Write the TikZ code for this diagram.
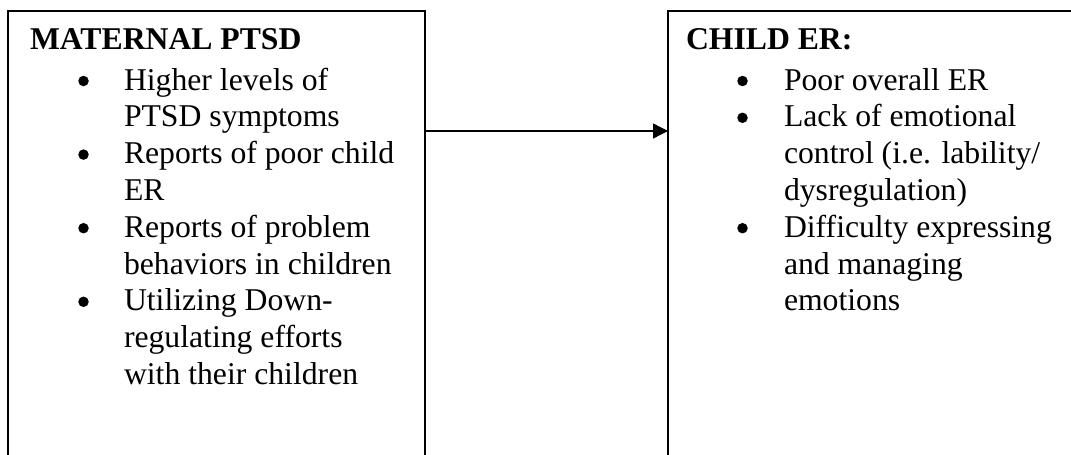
\documentclass[tikz,border=0pt]{standalone}
\usepackage{fontspec}
\setmainfont{Liberation Serif}
\usetikzlibrary{arrows.meta}

\begin{document}
\begin{tikzpicture}[x=1pt, y=-1pt,
    every node/.style={inner sep=0pt, outer sep=0pt},
    panel/.style={draw, line width=1.5pt, anchor=north west, minimum width=417, minimum height=489},
    line/.style={anchor=base west, font=\fontsize{31.7}{36.8}\selectfont},
    head/.style={line, font=\fontsize{31.7}{36.8}\selectfont\bfseries},
    dot/.style={shape=circle, fill, minimum size=10.5pt}]
    \useasboundingbox (0,0) rectangle (1071,455);
    \clip (0,0) rectangle (1071,455);
    % the two boxes, cut off at the page border
    \node[panel] (mat) at (8,11) {};
    \node[panel, minimum width=440] (chi) at (668,11) {};
    % left box
    \node[head] (m0) at (30,49.5) {MATERNAL PTSD};
    \node[dot] (b1) at (83.5,81) {};
    \node[line] (m1) at (124,90) {Higher levels of};
    \node[line] (m2) at (124,126.8) {PTSD symptoms};
    \node[dot] (b2) at (83.5,154.6) {};
    \node[line] (m3) at (124,163.6) {Reports of poor child};
    \node[line] (m4) at (124,200.4) {ER};
    \node[dot] (b3) at (83.5,228.2) {};
    \node[line] (m5) at (124,237.2) {Reports of problem};
    \node[line] (m6) at (124,274) {behaviors in children};
    \node[dot] (b4) at (83.5,301.8) {};
    \node[line] (m7) at (124,310.8) {Utilizing Down-};
    \node[line] (m8) at (124,347.6) {regulating efforts};
    \node[line] (m9) at (124,384.4) {with their children};
    % right box
    \node[head] (c0) at (686,49.5) {CHILD ER:};
    \node[dot] (d1) at (742.5,81) {};
    \node[line] (c1) at (784,90) {Poor overall ER};
    \node[dot] (d2) at (742.5,117.8) {};
    \node[line] (c2) at (784,126.8) {Lack of emotional};
    \node[line] (c3) at (784,163.6) {control (i.e. lability/};
    \node[line] (c4) at (784,200.4) {dysregulation)};
    \node[dot] (d3) at (742.5,228.2) {};
    \node[line] (c5) at (784,237.2) {Difficulty expressing};
    \node[line] (c6) at (784,274) {and managing};
    \node[line] (c7) at (784,310.8) {emotions};
    % link
    \coordinate (ay) at (0,131);
    \draw[line width=1.3pt, -{Triangle[length=15pt, width=15pt]}] (mat.east |- ay) -- (chi.west |- ay);
\end{tikzpicture}
\end{document}
